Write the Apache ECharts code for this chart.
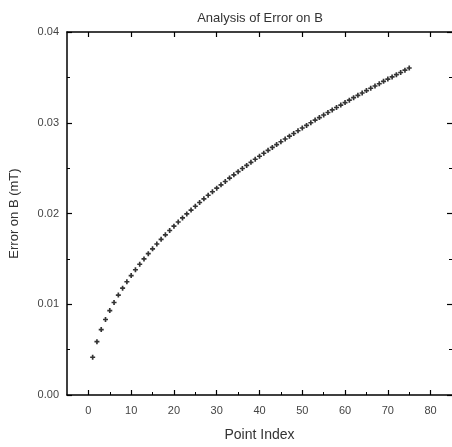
<!DOCTYPE html>
<html><head><meta charset="utf-8">
<script src="https://cdn.jsdelivr.net/npm/echarts@6/dist/echarts.min.js"></script>
<style>html,body{margin:0;padding:0;background:#fff}#c{width:452px;height:447px}</style>
</head><body><div id="c"></div>
<script>
const titleText = 'Analysis of Error on B';
const xName = 'Point Index';
const yName = 'Error on B (mT)';
const xMajorTicks = [0,10,20,30,40,50,60,70,80];
const xMinorTicks = [5,15,25,35,45,55,65,75];
const pointIndex = [];
for (let i = 1; i <= 75; i++) pointIndex.push(i);
const errorOnB = [
0.00416,0.00588,0.00721,0.00832,0.00930,0.01019,0.01101,0.01177,0.01248,0.01316,
0.01380,0.01441,0.01500,0.01557,0.01611,0.01664,0.01715,0.01765,0.01813,0.01860,
0.01906,0.01951,0.01995,0.02038,0.02080,0.02121,0.02162,0.02201,0.02240,0.02279,
0.02316,0.02353,0.02390,0.02426,0.02461,0.02496,0.02530,0.02564,0.02598,0.02631,
0.02664,0.02696,0.02728,0.02759,0.02791,0.02821,0.02852,0.02882,0.02912,0.02942,
0.02971,0.03000,0.03029,0.03057,0.03085,0.03113,0.03141,0.03168,0.03195,0.03222,
0.03249,0.03276,0.03302,0.03328,0.03354,0.03380,0.03405,0.03430,0.03456,0.03481,
0.03505,0.03530,0.03554,0.03579,0.03603];

const chart = echarts.init(document.getElementById('c'), null, {renderer:'canvas'});
const FF = 'Liberation Sans, Arial, sans-serif';
const lineStyle = {color:'#000', width:1.5};
const labelStyle = {color:'#444', fontSize:11, fontFamily:FF};
const xBase = {type:'value', min:-5, max:85, splitLine:{show:false}};
chart.setOption({
  animation:false,
  title:{text:titleText, left:255, textAlign:'center', top:7,
    textStyle:{fontSize:13, fontWeight:'normal', color:'#333', fontFamily:FF}},
  grid:{left:66, top:32, width:387, height:368},
  xAxis:[
    Object.assign({}, xBase, {position:'bottom', name:xName, nameLocation:'middle', nameGap:33,
      nameTextStyle:{fontSize:14, color:'#333', fontFamily:FF},
      axisLine:{show:true, onZero:false, lineStyle:lineStyle},
      axisTick:{show:true, inside:true, length:5, customValues:xMajorTicks, lineStyle:{color:'#000', width:1.2}},
      axisLabel:Object.assign({show:true, margin:10, customValues:xMajorTicks}, labelStyle)}),
    Object.assign({}, xBase, {position:'bottom',
      axisLine:{show:false, onZero:false},
      axisTick:{show:true, inside:true, length:3, customValues:xMinorTicks, lineStyle:{color:'#000', width:1}},
      axisLabel:{show:false}}),
    Object.assign({}, xBase, {position:'top',
      axisLine:{show:true, onZero:false, lineStyle:lineStyle},
      axisTick:{show:true, inside:true, length:5, customValues:xMajorTicks, lineStyle:{color:'#000', width:1.2}},
      axisLabel:{show:false}})
  ],
  yAxis:[
    {type:'value', position:'left', min:0, max:0.04, interval:0.01,
      name:yName, nameLocation:'middle', nameGap:46, nameRotate:90,
      nameTextStyle:{fontSize:13, color:'#333', fontFamily:FF},
      axisLine:{show:true, onZero:false, lineStyle:lineStyle},
      axisTick:{show:true, inside:true, length:5, lineStyle:{color:'#000', width:1.2}},
      minorTick:{show:true, splitNumber:2, length:3, lineStyle:{color:'#000', width:1}},
      splitLine:{show:false},
      axisLabel:Object.assign({margin:8, formatter:v=>v.toFixed(2)}, labelStyle)},
    {type:'value', position:'right', min:0, max:0.04, interval:0.01,
      axisLine:{show:false, onZero:false},
      axisTick:{show:true, inside:true, length:5, lineStyle:{color:'#000', width:1.2}},
      minorTick:{show:true, splitNumber:2, length:3, lineStyle:{color:'#000', width:1}},
      splitLine:{show:false}, axisLabel:{show:false}}
  ],
  series:[{
    type:'scatter', xAxisIndex:0, yAxisIndex:0,
    symbol:'path://M2,0H4V2H6V4H4V6H2V4H0V2H2Z', symbolSize:5,
    itemStyle:{color:'#000'},
    data:pointIndex.map((x,i)=>[x, errorOnB[i]])
  }]
});
</script></body></html>
